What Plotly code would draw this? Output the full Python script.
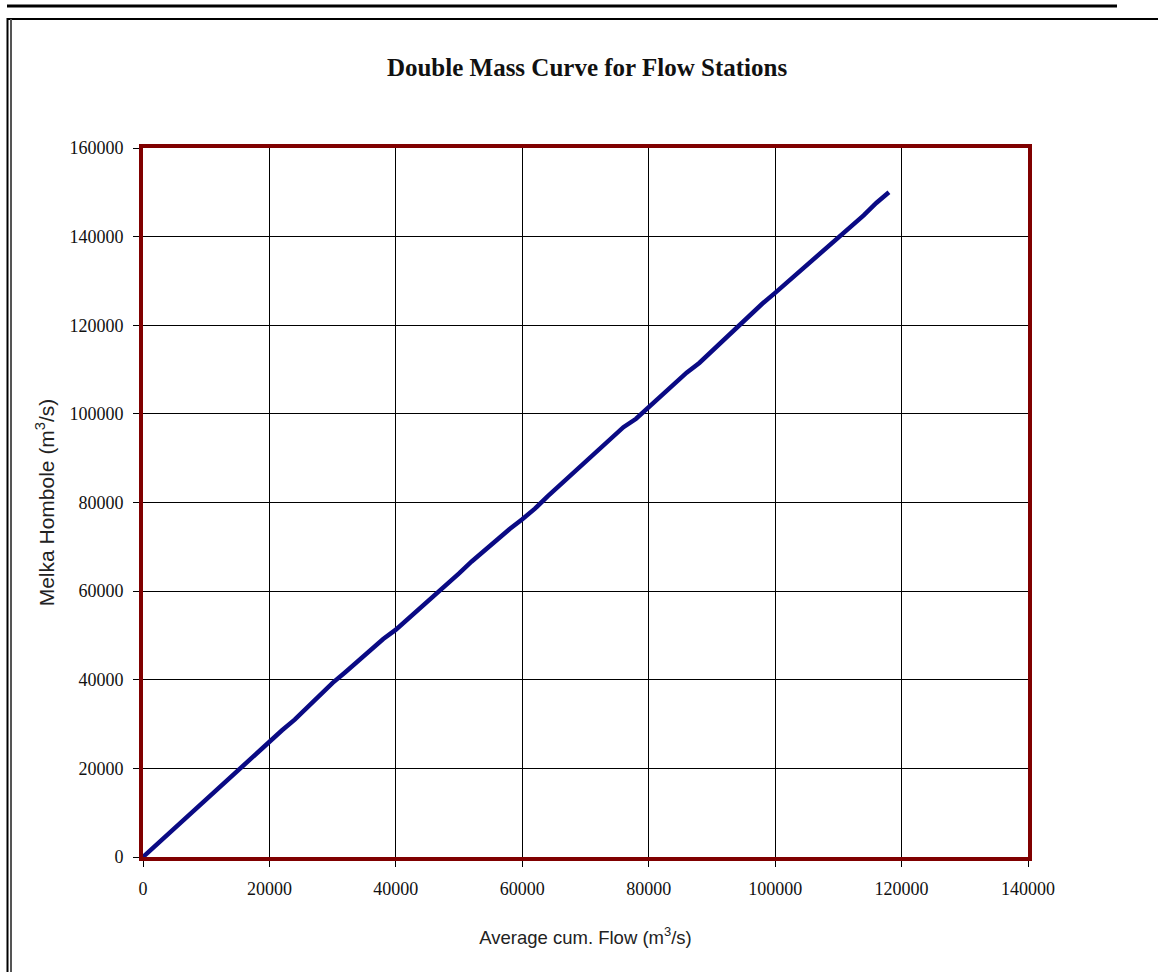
import plotly.graph_objects as go

# Double mass curve: cumulative average flow vs cumulative Melka Hombole flow
avg_cum_flow = [
    0, 2000, 4000, 6000, 8000, 10000, 12000, 14000, 16000, 18000,
    20000, 22000, 24000, 26000, 28000, 30000, 32000, 34000, 36000, 38000,
    40000, 42000, 44000, 46000, 48000, 50000, 52000, 54000, 56000, 58000,
    60000, 62000, 64000, 66000, 68000, 70000, 72000, 74000, 76000, 78000,
    80000, 82000, 84000, 86000, 88000, 90000, 92000, 94000, 96000, 98000,
    100000, 102000, 104000, 106000, 108000, 110000, 112000, 114000, 116000, 118000,
]
melka_hombole_cum = [
    0, 2600, 5300, 8000, 10600, 13300, 15700, 18300, 21000, 23700,
    26000, 28600, 31000, 33800, 36600, 39300, 41700, 44300, 46800, 49200,
    51300, 53800, 56500, 59000, 61500, 64000, 66700, 69200, 71600, 74000,
    76200, 78600, 81400, 84000, 86600, 89200, 91800, 94600, 97000, 98900,
    101500, 104000, 106700, 109300, 111500, 114200, 117000, 119800, 122500, 124900,
    127300, 129800, 132300, 134500, 137000, 139500, 142000, 144800, 147600, 150000,
]

x_ticks = [0, 20000, 40000, 60000, 80000, 100000, 120000, 140000]
y_ticks = [0, 20000, 40000, 60000, 80000, 100000, 120000, 140000, 160000]

W, H = 1158, 972
L, R, T, B = 143, 1028, 148, 857  # plot-area edges in pixels


def px(x):
    return (x - L) / (R - L)


def py(y):
    return (B - y) / (B - T)


fig = go.Figure()
fig.add_trace(go.Scatter(
    x=avg_cum_flow, y=melka_hombole_cum, mode="lines",
    line=dict(color="#0a0a84", width=4.5), showlegend=False,
))

serif = "Liberation Serif, Times New Roman, serif"
sans = "Liberation Sans, Arial, sans-serif"
tick_font = dict(family=serif, size=18, color="#111")

fig.update_xaxes(
    range=[0, 140000], tickvals=x_ticks, ticktext=[str(v) for v in x_ticks],
    showgrid=True, gridcolor="black", gridwidth=1, zeroline=False,
    showline=True, linecolor="#800000", linewidth=4, mirror=True,
    ticks="outside", ticklen=6, tickcolor="black", tickwidth=1,
    tickfont=tick_font, ticklabelstandoff=6,
    title=dict(text="Average cum. Flow (m<sup>3</sup>/s)",
               font=dict(family=sans, size=18.5, color="#222"), standoff=34),
)
fig.update_yaxes(
    range=[0, 160000], tickvals=y_ticks, ticktext=[str(v) for v in y_ticks],
    showgrid=True, gridcolor="black", gridwidth=1, zeroline=False,
    showline=True, linecolor="#800000", linewidth=4, mirror=True,
    ticks="outside", ticklen=6, tickcolor="black", tickwidth=1,
    tickfont=tick_font, ticklabelstandoff=6,
    title=dict(text="Melka Hombole (m<sup>3</sup>/s)",
               font=dict(family=sans, size=21, color="#222"), standoff=10),
)

# Page rules around the chart
shapes = [
    dict(type="line", xref="paper", yref="paper", x0=px(7), x1=px(1117), y0=py(6), y1=py(6),
         line=dict(color="black", width=3)),
    dict(type="line", xref="paper", yref="paper", x0=px(7), x1=px(1158), y0=py(19), y1=py(19),
         line=dict(color="black", width=2)),
    dict(type="line", xref="paper", yref="paper", x0=px(7.5), x1=px(7.5), y0=py(18), y1=py(972),
         line=dict(color="black", width=2)),
    dict(type="line", xref="paper", yref="paper", x0=px(11), x1=px(11), y0=py(19), y1=py(972),
         line=dict(color="#555", width=2)),
]

fig.update_layout(
    width=W, height=H,
    margin=dict(l=L, r=W - R, t=T, b=H - B),
    paper_bgcolor="white", plot_bgcolor="white",
    title=dict(
        text="<b>Double Mass Curve for Flow Stations</b>",
        font=dict(family=serif, size=25, color="#111"),
        x=587 / W, xanchor="center", y=1 - 67 / H, yanchor="middle",
    ),
    shapes=shapes,
)

fig.write_html("out.html")
